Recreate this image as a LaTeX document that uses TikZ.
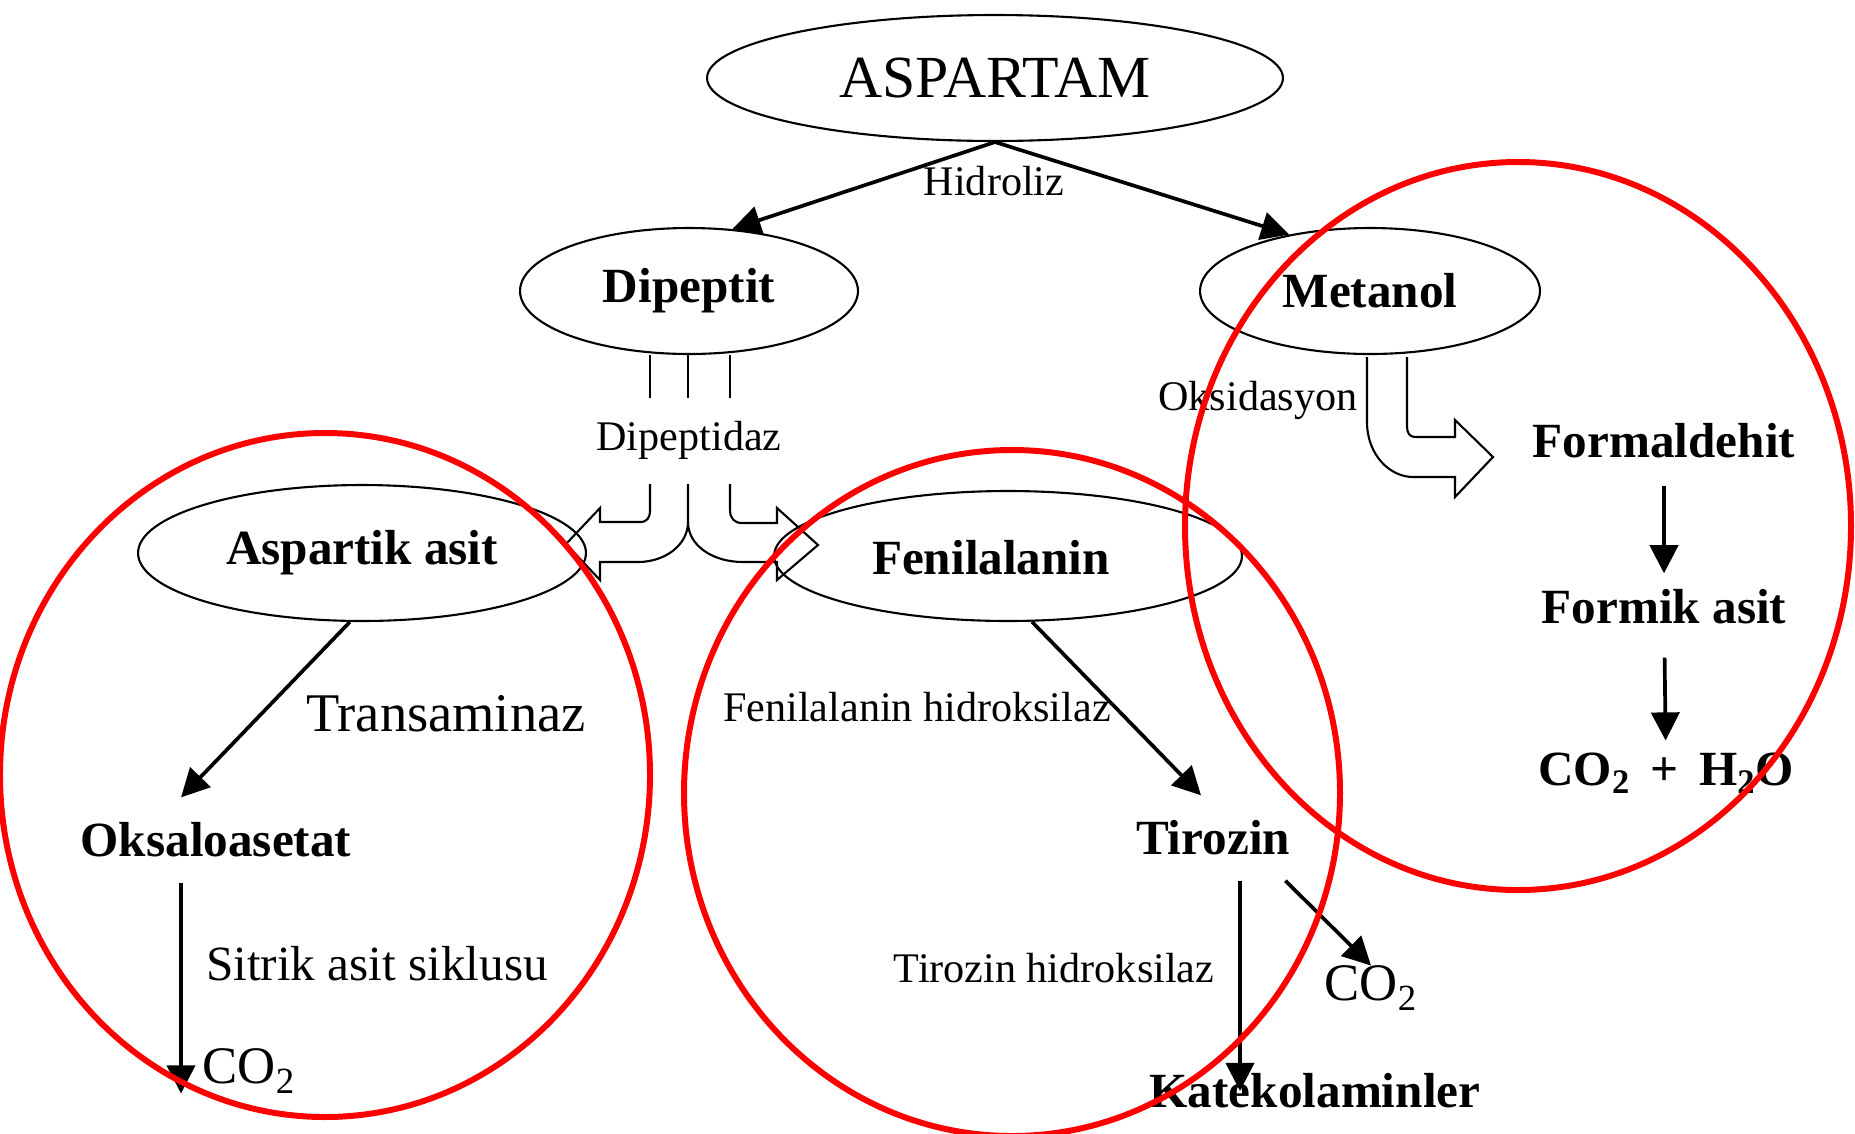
\documentclass[tikz,border=0pt]{standalone}
\usepackage{fontspec}
\setmainfont{Liberation Serif}
\usetikzlibrary{arrows.meta,shapes.geometric}

\begin{document}
\begin{tikzpicture}[x=0.02cm, y=-0.02cm,
  ell/.style={ellipse, draw, line width=1.2pt, inner sep=0pt},
  big/.style={font=\fontsize{34}{36}\selectfont},
  lbl/.style={inner sep=0pt, font=\fontsize{28}{30}\selectfont\bfseries},
  sml/.style={inner sep=0pt, font=\fontsize{24}{26}\selectfont},
  reg/.style={inner sep=0pt, font=\fontsize{30}{32}\selectfont},
  arr/.style={-{Triangle[length=16pt,width=16pt]}, line width=2.1pt},
  blk/.style={line width=1.2pt, line join=miter},
  ring/.style={red, line width=3.4pt}]
\useasboundingbox (0,0) rectangle (1855,1133);
\node[ell, big, minimum width=11.52cm, minimum height=2.52cm] (asp) at (995,78) {ASPARTAM};
\node[ell, lbl, minimum width=6.76cm, minimum height=2.52cm] (dip) at (689,291) {Dipeptit};
\node[ell, lbl, minimum width=6.8cm, minimum height=2.52cm] (met) at (1370,291) {Metanol};
\node[ell, lbl, minimum width=8.96cm, minimum height=2.72cm] (aas) at (362,553) {Aspartik asit};
\node[ell, minimum width=9.36cm, minimum height=2.6cm] (fen) at (1008,556) {};
\node[lbl] (fent) at (991,558) {Fenilalanin};
\node[sml] (hid) at (994,181) {Hidroliz};
\node[sml] (dz) at (689,440) {Dipeptidaz};
\node[sml] (oksd) at (1258,400) {Oksidasyon};
\node[lbl] (fald) at (1664,441) {Formaldehit};
\node[lbl] (fasit) at (1664,607) {Formik asit};
\node[lbl] (prod) at (1666,773) {CO\textsubscript{2}\, + \,H\textsubscript{2}O};
\node[reg, font=\fontsize{31}{33}\selectfont] (tam) at (446,714) {Transaminaz};
\node[lbl] (oks) at (216,840) {Oksaloasetat};
\node[sml] (fhid) at (917,707) {Fenilalanin hidroksilaz};
\node[lbl] (tir) at (1213,838) {Tirozin};
\node[reg, font=\fontsize{28}{30}\selectfont] (sit) at (377,964) {Sitrik asit siklusu};
\node[reg] (co2a) at (249,1071) {CO\textsubscript{2}};
\node[sml] (thid) at (1054,968) {Tirozin hidroksilaz};
\node[reg] (co2b) at (1371,988) {CO\textsubscript{2}};
\node[lbl] (kat) at (1315,1091) {Katekolaminler};
\draw[arr] (asp.south) -- (dip.55);
\draw[arr] (asp.south) -- (met.145);
\draw[arr] (aas.260) -- ([xshift=-0.7cm,yshift=0.5cm]oks.north);
\draw[arr] ([xshift=-0.7cm,yshift=-0.5cm]oks.south) coordinate (o1) -- (o1 |- co2a.south);
\draw[arr] (fen.290) -- ([xshift=-0.24cm,yshift=0.5cm]tir.north);
\draw[arr] ([xshift=0.54cm,yshift=-0.5cm]tir.south) coordinate (t1) -- (t1 |- kat.center);
\draw[arr] ([xshift=-0.1cm,yshift=-0.5cm]tir.south east) -- (co2b.north);
\draw[arr, shorten <=0.54cm, shorten >=0.32cm] (fald) -- (fasit);
\draw[arr, shorten <=0.66cm, shorten >=0.24cm] (fasit) -- (prod);
\draw[blk] (650,355) -- (650,398) (688,355) -- (688,398) (730,355) -- (730,398);
\draw[blk] (650,484) -- (650,510) .. controls (650,518) and (647,522) .. (640,522) -- (600,522) -- (600,508) -- (566,544) -- (600,580) -- (600,562) -- (638,562) .. controls (665,562) and (688,545) .. (688,522) -- (688,484);
\draw[blk] (688,522) .. controls (688,545) and (712,562) .. (743,562) -- (777,562) -- (777,580) -- (818,545) -- (777,508) -- (777,523) -- (742,523) .. controls (734,523) and (730,518) .. (730,510) -- (730,484);
\draw[blk] (1367,357) -- (1367,422) .. controls (1367,455) and (1390,477) .. (1413,477) -- (1455,477) -- (1455,497) -- (1493,457) -- (1455,420) -- (1455,437) -- (1415,437) .. controls (1410,437) and (1407,433) .. (1407,427) -- (1407,357);
\draw[ring] (325,775) ellipse [x radius=325, y radius=342];
\draw[ring] (1012,793) ellipse [x radius=328, y radius=343];
\draw[ring] (1518,526) ellipse [x radius=333, y radius=364];
\end{tikzpicture}
\end{document}
